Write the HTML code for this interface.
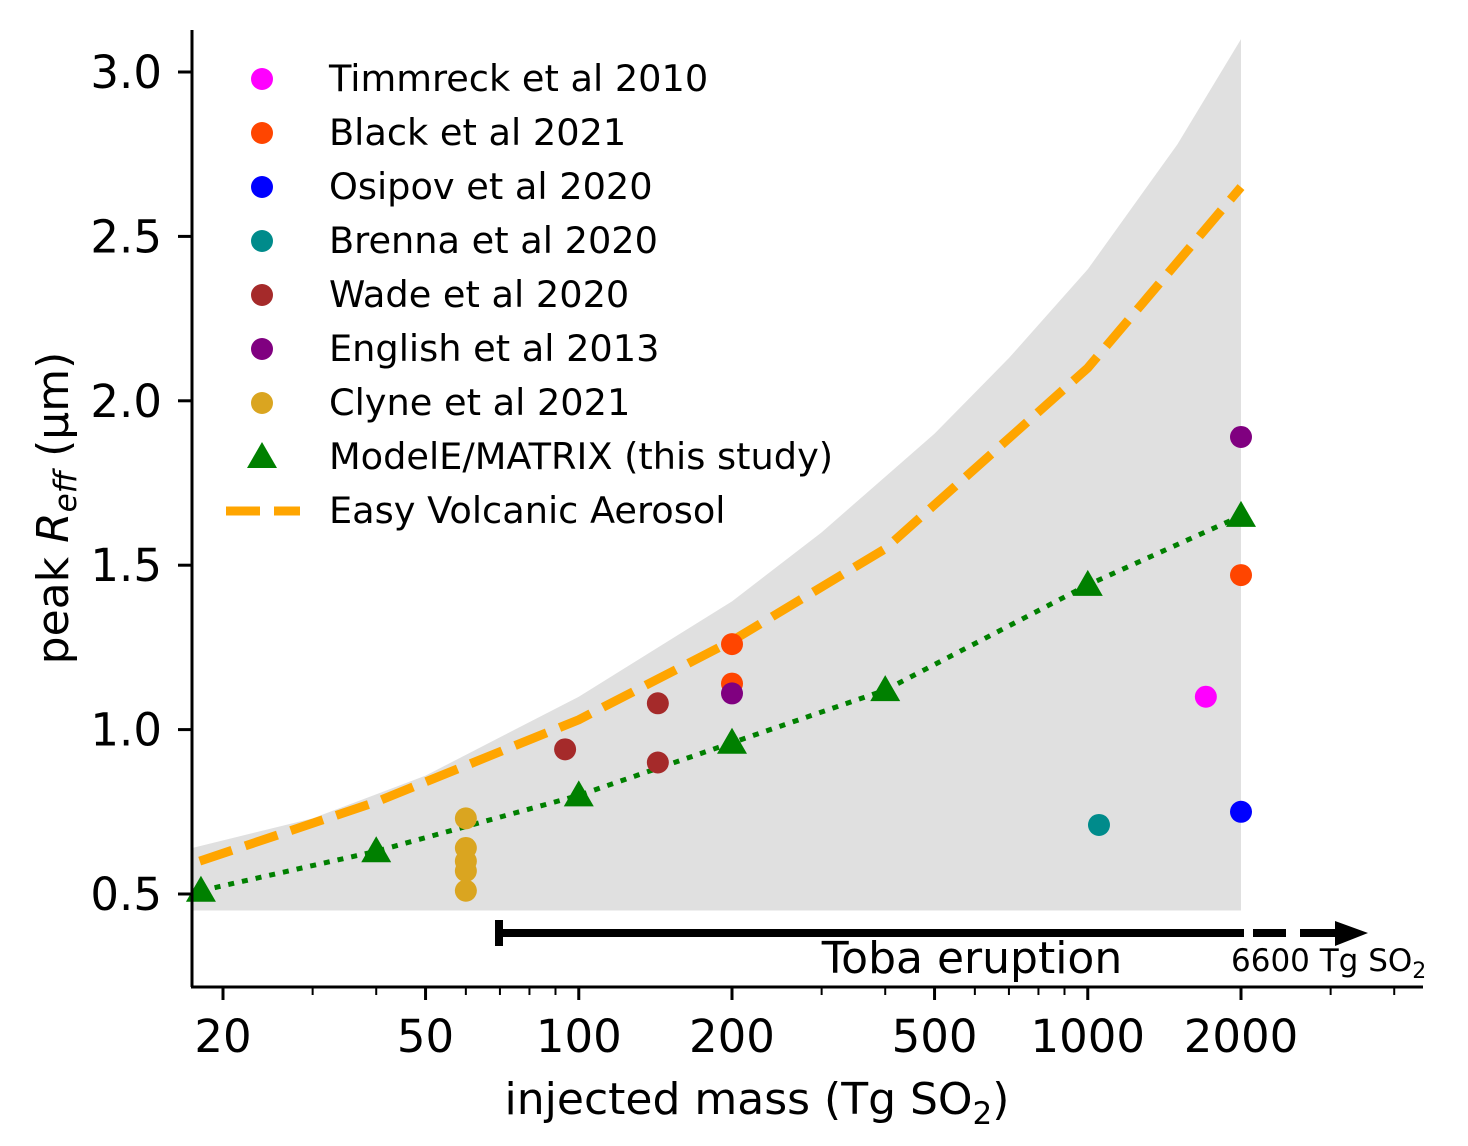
<!DOCTYPE html>
<html><head><meta charset="utf-8"><style>
body{margin:0;background:#fff;}
svg{display:block;font-family:"DejaVu Sans","Liberation Sans",sans-serif;}
</style></head><body>
<svg id="chart" width="1468" height="1146" viewBox="0 0 1468 1146" xmlns="http://www.w3.org/2000/svg"></svg>
<script>
const xTicks=[20,50,100,200,500,1000,2000];
const xMinor=[30,40,60,70,80,90,300,400,600,700,800,900,3000,4000];
const yTicks=[0.5,1.0,1.5,2.0,2.5,3.0];
const yTickLabels=["0.5","1.0","1.5","2.0","2.5","3.0"];
const shadeX=[17.4,30,50,100,200,300,500,700,1000,1500,2000];
const shadeTop=[0.64,0.73,0.86,1.1,1.39,1.6,1.9,2.13,2.4,2.78,3.1];
const shadeBottom=0.45;
const evaX=[18,40,100,200,400,1000,2000];
const evaY=[0.6,0.78,1.03,1.27,1.55,2.1,2.65];
const matX=[18.1,40,100,200,400,1000,2000];
const matY=[0.51,0.63,0.80,0.96,1.12,1.44,1.65];
const timX=[1706],timY=[1.10];
const blackX=[200,200,2000],blackY=[1.26,1.14,1.47];
const osiX=[2000],osiY=[0.75];
const breX=[1052],breY=[0.71];
const wadeX=[94,143,143],wadeY=[0.94,1.08,0.90];
const engX=[200,2000],engY=[1.11,1.89];
const clyX=[60,60,60,60,60],clyY=[0.73,0.64,0.60,0.57,0.51];

const NS="http://www.w3.org/2000/svg";
const svg=document.getElementById('chart');
const X=v=>223+509*Math.log10(v/20);
const Y=v=>894-328.8*(v-0.5);
function mk(tag,attrs,parent){const e=document.createElementNS(NS,tag);for(const k in attrs)e.setAttribute(k,attrs[k]);(parent||svg).appendChild(e);return e;}

let d='M'+X(shadeX[0])+','+Y(shadeBottom);
shadeX.forEach((x,i)=>{d+=' L'+X(x)+','+Y(shadeTop[i]);});
d+=' L'+X(2000)+','+Y(shadeBottom)+' Z';
const sh=mk('path',{d:d,fill:'#e0e0e0'});



const ev=mk('polyline',{points:evaX.map((x,i)=>X(x)+','+Y(evaY[i])).join(' '),fill:'none',stroke:'#ffa500','stroke-width':9,'stroke-dasharray':'34,14'});


const ml=mk('polyline',{points:matX.map((x,i)=>X(x)+','+Y(matY[i])).join(' '),fill:'none',stroke:'#008000','stroke-width':5,'stroke-dasharray':'6,8'});



function dots(xs,ys,color,name){xs.forEach((x,i)=>{const c=mk('circle',{cx:X(x),cy:Y(ys[i]),r:11,fill:color});

});}
dots(clyX,clyY,'#daa520','clyne-point');
dots(timX,timY,'#ff00ff','timmreck-point');
dots(blackX,blackY,'#ff4500','black-point');
dots(osiX,osiY,'#0000ff','osipov-point');
dots(breX,breY,'#008b8b','brenna-point');
dots(wadeX,wadeY,'#a52a2a','wade-point');
dots(engX,engY,'#800080','english-point');
matX.forEach((x,i)=>{const cx=X(x),cy=Y(matY[i]);const t=mk('polygon',{points:(cx)+','+(cy-15)+' '+(cx-15)+','+(cy+11)+' '+(cx+15)+','+(cy+11),fill:'#008000'});

});

mk('line',{x1:192,y1:30,x2:192,y2:987,stroke:'#000','stroke-width':3});
mk('line',{x1:191,y1:987,x2:1423,y2:987,stroke:'#000','stroke-width':3});
xTicks.forEach(v=>{mk('line',{x1:X(v),y1:987,x2:X(v),y2:1000,stroke:'#000','stroke-width':3});
const t=mk('text',{x:X(v),y:1052,'font-size':45,'text-anchor':'middle'});t.textContent=v;

});
xMinor.forEach(v=>{mk('line',{x1:X(v),y1:987,x2:X(v),y2:995,stroke:'#000','stroke-width':2});});
yTicks.forEach((v,i)=>{mk('line',{x1:178,y1:Y(v),x2:192,y2:Y(v),stroke:'#000','stroke-width':3});
const t=mk('text',{x:162,y:Y(v)+16,'font-size':45,'text-anchor':'end'});t.textContent=yTickLabels[i];

});
const xt=mk('text',{x:757,y:1114,'font-size':44,'text-anchor':'middle'});
xt.innerHTML='injected mass (Tg SO<tspan font-size="31" dy="10">2</tspan><tspan dy="-10">)</tspan>';


const yt=mk('text',{x:0,y:0,'font-size':44,'text-anchor':'middle',transform:'translate(68,508) rotate(-90)'});
yt.innerHTML='peak <tspan font-style="italic">R</tspan><tspan font-style="italic" font-size="31" dy="8">eff</tspan><tspan dy="-8"> (µm)</tspan>';



const g=mk('g',{});


mk('line',{x1:500,y1:933,x2:1244,y2:933,stroke:'#000','stroke-width':8},g);
mk('line',{x1:499,y1:920,x2:499,y2:946,stroke:'#000','stroke-width':8},g);
mk('line',{x1:1253,y1:933,x2:1286,y2:933,stroke:'#000','stroke-width':8},g);
mk('line',{x1:1300,y1:933,x2:1340,y2:933,stroke:'#000','stroke-width':8},g);
mk('polygon',{points:'1335,921 1368,933 1335,946',fill:'#000'},g);
const tb=mk('text',{x:972,y:973,'font-size':44,'text-anchor':'middle'});tb.textContent='Toba eruption';


const tm=mk('text',{x:1231,y:971,'font-size':31});tm.innerHTML='6600 Tg SO<tspan font-size="22" dy="7">2</tspan>';



const leg=[['Timmreck et al 2010','#ff00ff','c'],['Black et al 2021','#ff4500','c'],['Osipov et al 2020','#0000ff','c'],['Brenna et al 2020','#008b8b','c'],['Wade et al 2020','#a52a2a','c'],['English et al 2013','#800080','c'],['Clyne et al 2021','#daa520','c'],['ModelE/MATRIX (this study)','#008000','t'],['Easy Volcanic Aerosol','#ffa500','l']];
leg.forEach((l,i)=>{const y=79+54*i;const gg=mk('g',{});


if(l[2]==='c')mk('circle',{cx:262,cy:y,r:11,fill:l[1]},gg);
else if(l[2]==='t')mk('polygon',{points:'262,'+(y-15)+' 247,'+(y+11)+' 277,'+(y+11),fill:l[1]},gg);
else mk('line',{x1:226,y1:y,x2:300,y2:y,stroke:l[1],'stroke-width':9,'stroke-dasharray':'34,14'},gg);
const t=mk('text',{x:329,y:y+12,'font-size':36.7},gg);t.textContent=l[0];});
</script>
</body></html>
